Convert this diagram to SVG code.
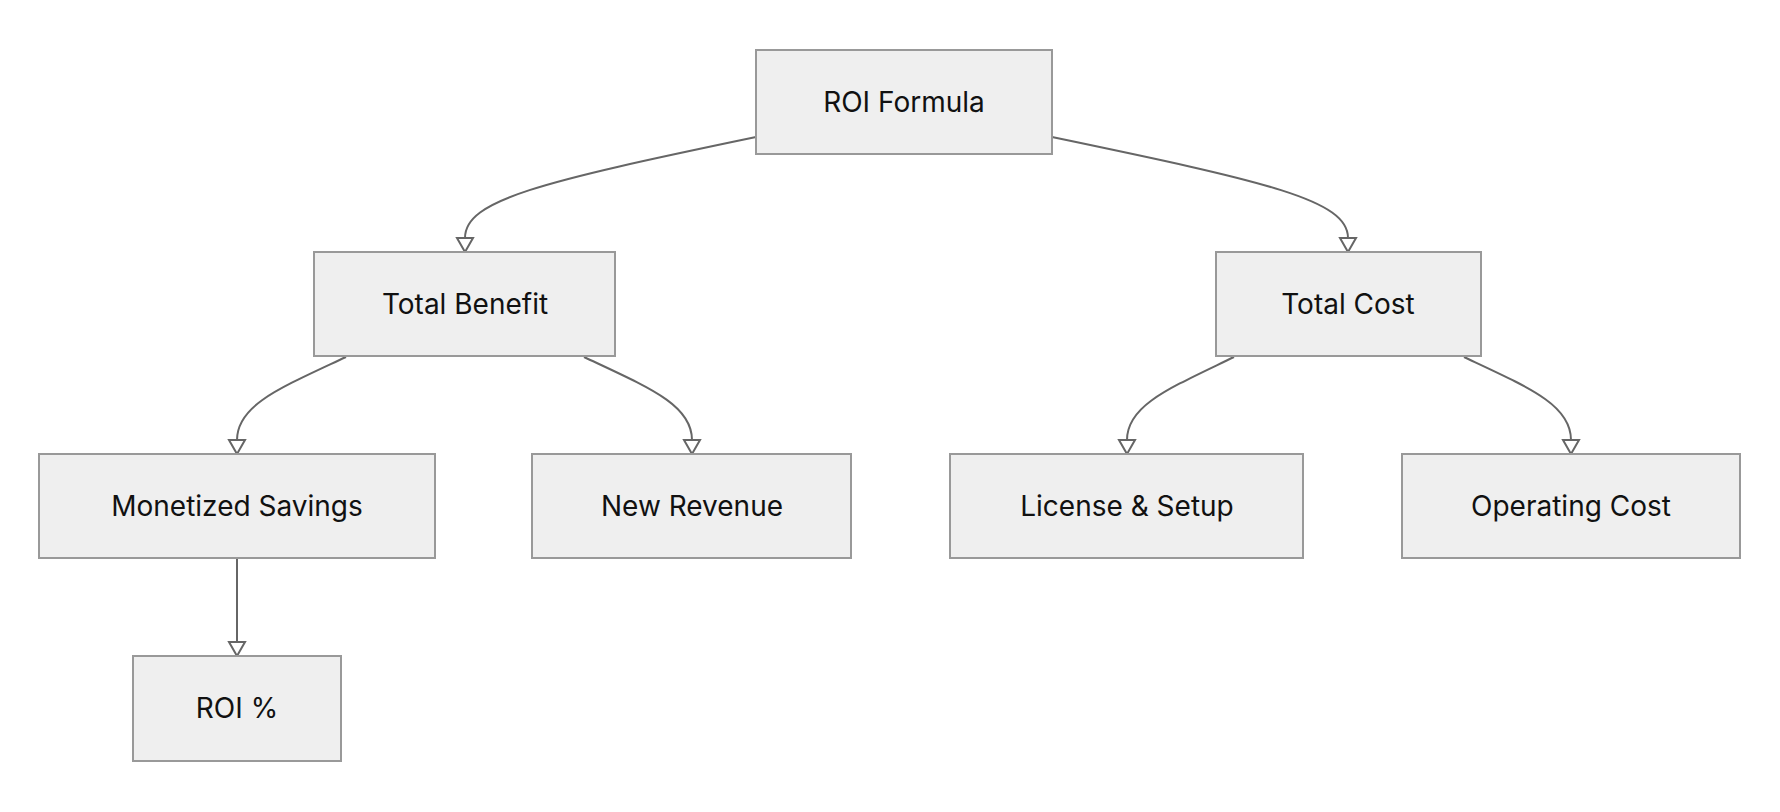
<svg xmlns="http://www.w3.org/2000/svg" width="1780" height="812" viewBox="0 0 1780 812">
<defs>
<marker id="ah" viewBox="0 0 10 10" refX="10" refY="5" markerWidth="8" markerHeight="8" markerUnits="userSpaceOnUse" orient="auto"><path d="M0,0 L10,5 L0,10 z" fill="#666"/></marker>
</defs>
<style>
.n rect{fill:#efefef;stroke:#999;stroke-width:2}
.n text{font-family:Inter,"Liberation Sans",sans-serif;font-size:28px;fill:#111;text-anchor:middle;dominant-baseline:central}
.e path{fill:none;stroke:#666;stroke-width:2;marker-end:url(#ah)}
.e path{marker-end:none}
</style>
<rect width="1780" height="812" fill="#fff"/>
<g class="e">
<path d="M756,137 C540,182 465,200 465,238"/>
<path d="M1052,137 C1268,182 1348,200 1348,238"/>
<path d="M346,357 C280,388 237,405 237,440"/>
<path d="M584,357 C650,388 692,405 692,440"/>
<path d="M1234,357 C1170,388 1127,405 1127,440"/>
<path d="M1464,357 C1530,388 1571,405 1571,440"/>
<path d="M237,558 L237,642"/>
<g fill="#666">
<path d="M457,238 L473,238 L465,252 z" stroke="none"/>
<path d="M1340,238 L1356,238 L1348,252 z" stroke="none"/>
<path d="M229,440 L245,440 L237,454 z" stroke="none"/>
<path d="M684,440 L700,440 L692,454 z" stroke="none"/>
<path d="M1119,440 L1135,440 L1127,454 z" stroke="none"/>
<path d="M1563,440 L1579,440 L1571,454 z" stroke="none"/>
<path d="M229,642 L245,642 L237,656 z" stroke="none"/>
</g>
</g>
<g id="roi" class="n"><rect x="756" y="50" width="296" height="104"/><text x="904" y="102">ROI Formula</text></g>
<g id="benefit" class="n"><rect x="314" y="252" width="301" height="104"/><text x="465" y="304">Total Benefit</text></g>
<g id="cost" class="n"><rect x="1216" y="252" width="265" height="104"/><text x="1348" y="304">Total Cost</text></g>
<g id="savings" class="n"><rect x="39" y="454" width="396" height="104"/><text x="237" y="506">Monetized Savings</text></g>
<g id="revenue" class="n"><rect x="532" y="454" width="319" height="104"/><text x="692" y="506">New Revenue</text></g>
<g id="license" class="n"><rect x="950" y="454" width="353" height="104"/><text x="1127" y="506">License &amp; Setup</text></g>
<g id="operating" class="n"><rect x="1402" y="454" width="338" height="104"/><text x="1571" y="506">Operating Cost</text></g>
<g id="roipct" class="n"><rect x="133" y="656" width="208" height="105"/><text x="237" y="708">ROI %</text></g>
</svg>
